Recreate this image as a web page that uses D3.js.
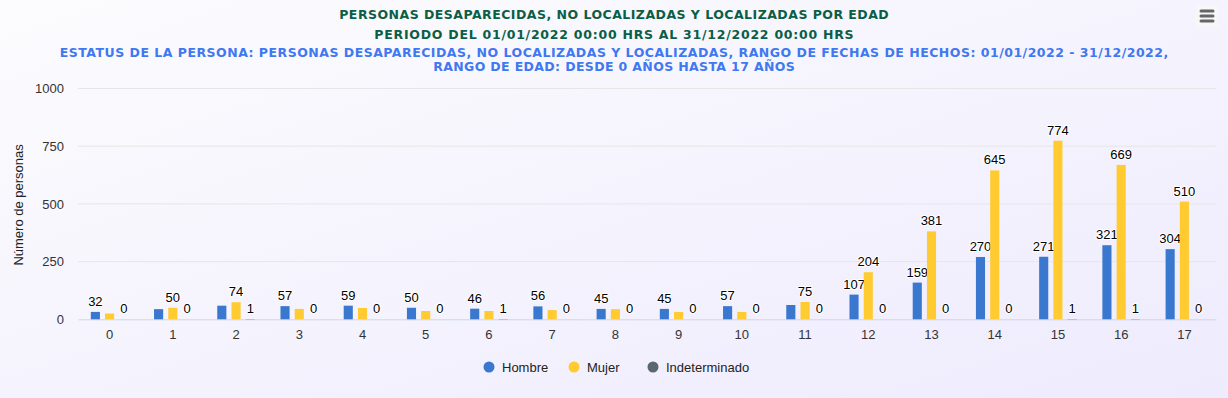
<!DOCTYPE html>
<html>
<head>
<meta charset="utf-8">
<script src="https://cdn.jsdelivr.net/npm/d3@7"></script>
<style>
  body { margin: 0; }
  svg { display: block; }
</style>
</head>
<body>
<div id="chart"></div>
<script>
// data
const ages = ["0","1","2","3","4","5","6","7","8","9","10","11","12","13","14","15","16","17"];
const hombre = [32, 44, 59, 57, 59, 50, 46, 56, 45, 45, 57, 62, 107, 159, 270, 271, 321, 304];
const mujer = [25, 50, 74, 45, 49, 36, 36, 40, 44, 32, 32, 75, 204, 381, 645, 774, 669, 510];
const indeterminado = [0, 0, 1, 0, 0, 0, 1, 0, 0, 0, 0, 0, 0, 0, 0, 1, 1, 0];
const seriesNames = ["Hombre", "Mujer", "Indeterminado"];
const seriesColors = ["#3a78cf", "#ffcb30", "#5a6770"];
const yTicks = [0, 250, 500, 750, 1000];

// which data labels the original hides because they overlap
const hidden = [
  [false,true,true,false,false,false,false,false,false,false,false,true,false,false,false,false,false,false],
  [true,false,false,true,true,true,true,true,true,true,true,false,false,false,false,false,false,false],
  ages.map(() => false)
];

const W = 1228, H = 398;
const margin = {top: 88.5, left: 78, right: 12, bottom: 78.7};
const plotW = W - margin.left - margin.right;
const plotH = H - margin.top - margin.bottom;

const svg = d3.select("#chart").append("svg")
  .attr("width", W).attr("height", H);

const grad = svg.append("defs").append("linearGradient")
  .attr("id", "bg").attr("x1", 0).attr("y1", 0).attr("x2", 1).attr("y2", 1);
grad.append("stop").attr("offset", "0%").attr("stop-color", "#fcfcfe");
grad.append("stop").attr("offset", "100%").attr("stop-color", "#eeebfd");
svg.append("rect").attr("width", W).attr("height", H).attr("fill", "url(#bg)");

// titles, stretched a little to the width they take in the original
const titleFont = "bold 12.5px 'DejaVu Sans', Verdana, sans-serif";
function title(txt, yPos, color, width) {
  const t = svg.append("text").attr("x", 614).attr("y", yPos)
    .attr("text-anchor", "middle")
    .style("font", titleFont)
    .attr("fill", color)
    .text(txt);
  const len = t.node().getComputedTextLength();
  const ls = (width - len) / txt.length;
  t.style("letter-spacing", ls + "px").attr("x", 614 + ls / 2);
}
title("PERSONAS DESAPARECIDAS, NO LOCALIZADAS Y LOCALIZADAS POR EDAD", 18.5, "#0b5e46", 550);
title("PERIODO DEL 01/01/2022 00:00 HRS AL 31/12/2022 00:00 HRS", 38.5, "#0b5e46", 480);
title("ESTATUS DE LA PERSONA: PERSONAS DESAPARECIDAS, NO LOCALIZADAS Y LOCALIZADAS, RANGO DE FECHAS DE HECHOS: 01/01/2022 - 31/12/2022,", 57, "#3f78f0", 1109);
title("RANGO DE EDAD: DESDE 0 AÑOS HASTA 17 AÑOS", 71, "#3f78f0", 362);

// menu button
const menu = svg.append("g").attr("transform", "translate(1196,5)");
menu.append("rect").attr("width", 22).attr("height", 22).attr("rx", 2).attr("fill", "#f7f7f7");
[6, 11, 16].forEach(y => {
  menu.append("line").attr("x1", 5).attr("x2", 17).attr("y1", y).attr("y2", y)
    .attr("stroke", "#666").attr("stroke-width", 3).attr("stroke-linecap", "round");
});

const g = svg.append("g").attr("transform", `translate(${margin.left},${margin.top})`);

const x = d3.scaleBand().domain(ages).range([0, plotW]);
const xs = d3.scaleBand().domain(seriesNames).range([0, x.bandwidth()]).paddingInner(0.36).paddingOuter(0.9);
const y = d3.scaleLinear().domain([0, 1000]).range([plotH, 0]);

// grid
g.append("g").selectAll("line").data(yTicks.slice(1)).join("line")
  .attr("x1", 0).attr("x2", plotW)
  .attr("y1", d => y(d)).attr("y2", d => y(d))
  .attr("stroke", "#e6e6e6").attr("stroke-width", 1);

// y axis
const yAxis = g.append("g").call(d3.axisLeft(y).tickValues(yTicks).tickFormat(d3.format("d")).tickSize(0).tickPadding(14));
yAxis.select(".domain").remove();
yAxis.selectAll("text").style("font", "13px 'Liberation Sans', Arial, sans-serif").attr("fill", "#333");

svg.append("text")
  .attr("transform", `translate(23,${margin.top + plotH / 2 + 1}) rotate(-90)`)
  .attr("text-anchor", "middle")
  .style("font", "13px 'Liberation Sans', Arial, sans-serif")
  .attr("fill", "#222")
  .text("Número de personas");

// x axis
const xAxis = g.append("g").attr("transform", `translate(0,${plotH})`)
  .call(d3.axisBottom(x).tickSize(0).tickPadding(10));
xAxis.select(".domain").attr("stroke", "#ccd6eb");
xAxis.selectAll("text").style("font", "13px 'Liberation Sans', Arial, sans-serif").attr("fill", "#333");

// bars + labels
const series = [hombre, mujer, indeterminado];
series.forEach((vals, s) => {
  const pts = vals.map((v, i) => ({v, age: ages[i], hide: hidden[s][i]}));
  const sg = g.append("g");
  sg.selectAll("rect").data(pts).join("rect")
    .attr("x", d => x(d.age) + xs(seriesNames[s]))
    .attr("width", xs.bandwidth())
    .attr("y", d => y(d.v))
    .attr("height", d => y(0) - y(d.v))
    .attr("fill", seriesColors[s]);
  sg.selectAll("text").data(pts.filter(d => !d.hide)).join("text")
    .attr("x", d => x(d.age) + xs(seriesNames[s]) + xs.bandwidth() / 2)
    .attr("y", d => y(d.v) - 6)
    .attr("text-anchor", "middle")
    .style("font", "13px 'Liberation Sans', Arial, sans-serif")
    .attr("fill", "#000")
    .attr("stroke", "#fff").attr("stroke-width", 2).attr("paint-order", "stroke")
    .attr("stroke-linejoin", "round")
    .text(d => d.v);
});

// legend
const legendX = [489, 574, 653];
const lg = svg.append("g");
seriesNames.forEach((n, i) => {
  lg.append("circle").attr("cx", legendX[i]).attr("cy", 367).attr("r", 5.5).attr("fill", seriesColors[i]);
  lg.append("text").attr("x", legendX[i] + 13).attr("y", 371.5)
    .style("font", "13px 'Liberation Sans', Arial, sans-serif")
    .attr("fill", "#222").text(n);
});
</script>
</body>
</html>
